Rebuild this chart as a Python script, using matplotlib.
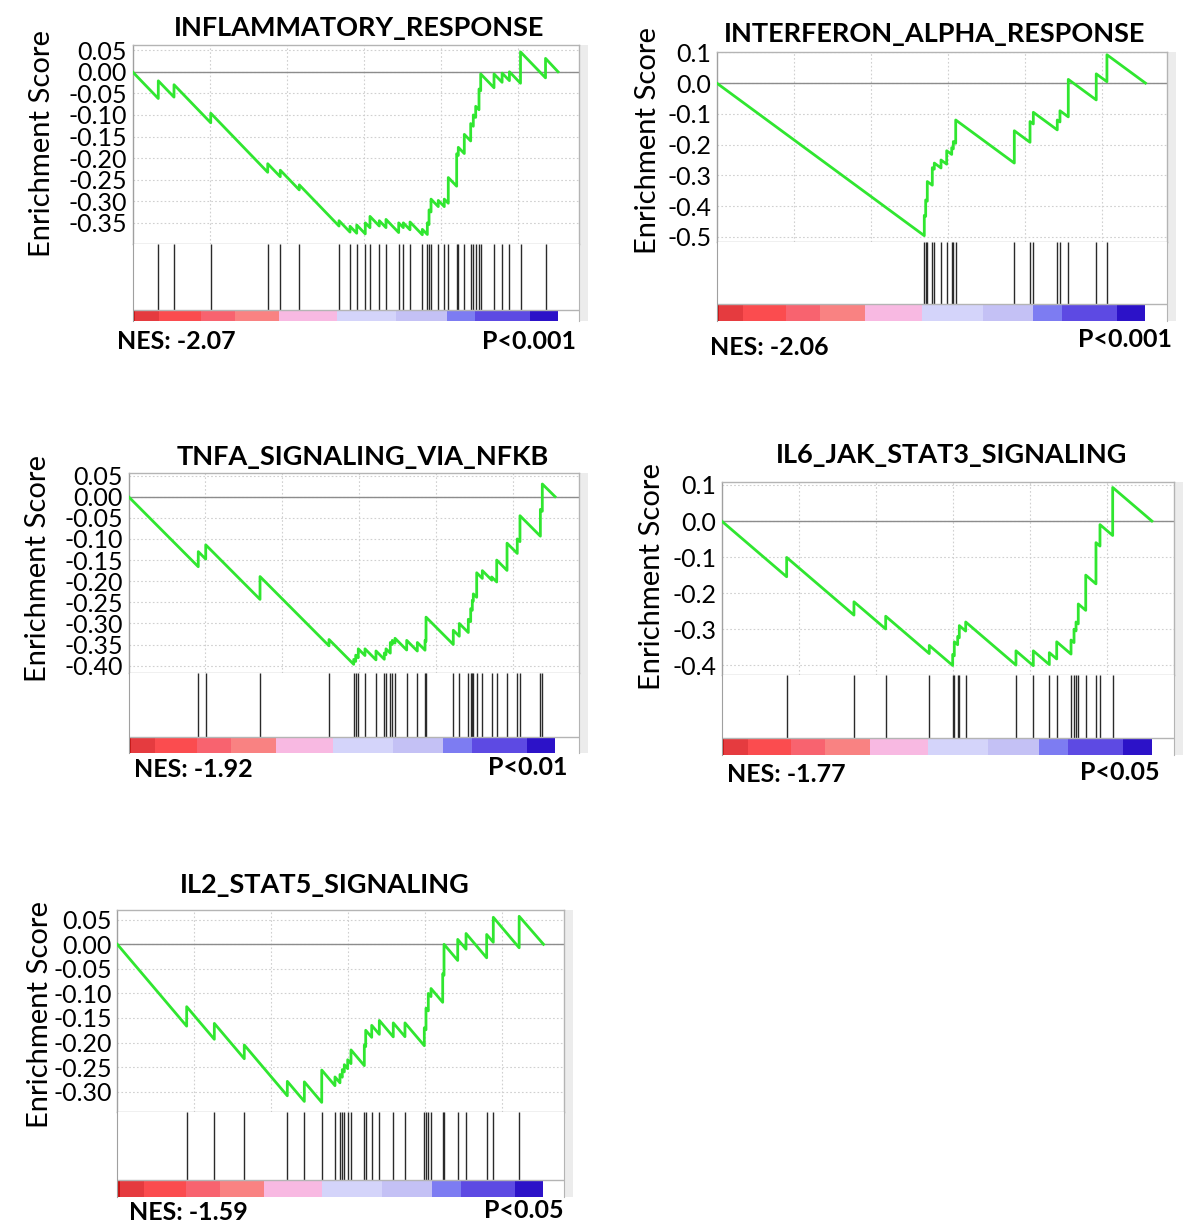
import matplotlib
matplotlib.use("Agg")
import matplotlib.pyplot as plt
from matplotlib.patches import Rectangle

plt.rcParams['font.family'] = ['Lato', 'DejaVu Sans']
plt.rcParams['axes.unicode_minus'] = False

# ---------------- data ----------------
titles = ["INFLAMMATORY_RESPONSE", "INTERFERON_ALPHA_RESPONSE", "TNFA_SIGNALING_VIA_NFKB",
          "IL6_JAK_STAT3_SIGNALING", "IL2_STAT5_SIGNALING"]
nes_labels = ["NES: -2.07", "NES: -2.06", "NES: -1.92", "NES: -1.77", "NES: -1.59"]
p_labels = ["P<0.001", "P<0.001", "P<0.01", "P<0.05", "P<0.05"]

# gene-set hit positions in the ranked list, and running ES just after each hit
inflammatory_hits = [335, 539, 1016, 1756, 1919, 2166, 2682, 2825, 2912, 3023, 3084, 3205, 3292,
                     3457, 3517, 3604, 3764, 3829, 3851, 3877, 3971, 4049, 4101, 4210, 4231, 4309,
                     4392, 4426, 4457, 4500, 4522, 4695, 4800, 4895, 5039, 5364]
inflammatory_peaks = [-0.021, -0.030, -0.096, -0.213, -0.228, -0.262, -0.345, -0.358, -0.355,
                      -0.350, -0.335, -0.345, -0.342, -0.350, -0.350, -0.348, -0.365, -0.350,
                      -0.320, -0.295, -0.298, -0.295, -0.245, -0.190, -0.175, -0.145, -0.120,
                      -0.100, -0.080, -0.040, -0.005, -0.005, -0.003, 0.000, 0.046, 0.031]

ifna_hits = [2696, 2714, 2735, 2800, 2826, 2913, 2987, 3052, 3073, 3104, 3865, 4069, 4112,
             4423, 4458, 4566, 4929, 5068]
ifna_peaks = [-0.430, -0.380, -0.320, -0.275, -0.260, -0.250, -0.220, -0.210, -0.190, -0.120,
              -0.155, -0.125, -0.095, -0.120, -0.090, 0.012, 0.030, 0.092]

tnfa_hits = [906, 1003, 1708, 2604, 2925, 2951, 2984, 3071, 3214, 3322, 3344, 3400, 3426, 3461,
             3613, 3751, 3851, 3864, 4218, 4296, 4413, 4444, 4465, 4478, 4522, 4595, 4717, 4782,
             4916, 5049, 5084, 5349, 5374]
tnfa_peaks = [-0.130, -0.114, -0.189, -0.338, -0.385, -0.375, -0.360, -0.360, -0.365, -0.370,
              -0.360, -0.345, -0.340, -0.335, -0.340, -0.345, -0.340, -0.285, -0.316, -0.300,
              -0.290, -0.265, -0.245, -0.230, -0.180, -0.175, -0.190, -0.150, -0.110, -0.100,
              -0.045, -0.030, 0.030]

il6_hits = [845, 1719, 2131, 2697, 3001, 3022, 3066, 3087, 3170, 3823, 4048, 4256, 4352, 4538,
            4577, 4603, 4632, 4729, 4862, 4914, 5079]
il6_peaks = [-0.101, -0.224, -0.264, -0.345, -0.370, -0.335, -0.320, -0.290, -0.280, -0.360,
             -0.360, -0.365, -0.335, -0.330, -0.300, -0.280, -0.230, -0.150, -0.060, -0.010, 0.093]

il2_hits = [901, 1260, 1649, 2208, 2429, 2655, 2827, 2892, 2922, 2948, 2992, 3035, 3208, 3226,
            3304, 3403, 3584, 3736, 3987, 4009, 4039, 4074, 4226, 4243, 4421, 4529, 4797, 4883, 5219]
il2_peaks = [-0.127, -0.161, -0.205, -0.279, -0.280, -0.256, -0.270, -0.265, -0.255, -0.245,
             -0.235, -0.215, -0.205, -0.175, -0.165, -0.155, -0.160, -0.160, -0.170, -0.130,
             -0.100, -0.090, -0.060, 0.000, 0.010, 0.022, 0.020, 0.055, 0.057]

hits = [inflammatory_hits, ifna_hits, tnfa_hits, il6_hits, il2_hits]
peaks = [inflammatory_peaks, ifna_peaks, tnfa_peaks, il6_peaks, il2_peaks]
n_ranked = [5526, 5568, 5540, 5588, 5535]          # length of ranked list
miss_step = [0.000185, 0.000184, 0.000183, 0.000183, 0.000185]  # ES decrement per non-hit gene

ytick_values = [
    [0.05, 0.00, -0.05, -0.10, -0.15, -0.20, -0.25, -0.30, -0.35],
    [0.1, 0.0, -0.1, -0.2, -0.3, -0.4, -0.5],
    [0.05, 0.00, -0.05, -0.10, -0.15, -0.20, -0.25, -0.30, -0.35, -0.40],
    [0.1, 0.0, -0.1, -0.2, -0.3, -0.4],
    [0.05, 0.00, -0.05, -0.10, -0.15, -0.20, -0.25, -0.30],
]
ytick_fmt = ['%.2f', '%.1f', '%.2f', '%.1f', '%.2f']
ylims = [(-0.399, 0.062), (-0.515, 0.102), (-0.4165, 0.0553), (-0.427, 0.109), (-0.342, 0.0698)]

# ranked-list colour bar (fractions of list, colours)
bar_edges = [0, 0.006, 0.062, 0.161, 0.240, 0.345, 0.480, 0.620, 0.738, 0.806, 0.934, 1.0]
bar_colors = ['#c81414', '#e53b3f', '#fb4c4f', '#f8636f', '#f98282', '#f8b9e2',
              '#d4d4fa', '#c4c1f5', '#7d7cf2', '#5d4ae3', '#2c12c8']

# ---------------- layout (pixels) ----------------
W, H = 1203, 1229
# x_left, x_right, y_top, y_es_bottom, y_bar_top, y_bottom
panel_box = [
    (132.5, 579.3, 45.0, 244.0, 310.0, 321.0),
    (716.7, 1166.5, 51.7, 241.5, 304.3, 321.0),
    (128.5, 578.8, 473.3, 672.7, 737.3, 753.3),
    (721.6, 1174.2, 481.7, 675.0, 738.3, 755.0),
    (117.3, 564.2, 910.0, 1112.3, 1180.0, 1197.3),
]
PX_PER_RANK = 0.077
title_pos = [(359.5, 36.0), (934.6, 41.7), (362.5, 465.0), (952.0, 462.7), (325.0, 893.0)]
ylabel_pos = [(42.3, 143.5), (648.0, 140.0), (38.5, 569.0), (652.0, 577.0), (40.4, 1015.0)]
nes_pos = [(117.0, 349.0), (709.6, 355.0), (133.8, 777.0), (727.0, 782.0), (128.8, 1220.0)]
p_pos = [(576.0, 349.0), (1172.0, 347.0), (567.3, 775.0), (1159.6, 780.0), (563.5, 1218.0)]

fig = plt.figure(figsize=(W / 100, H / 100), dpi=100)


def fx(px):
    return px / W


def fy(py):
    return 1 - py / H


frame_col = '#b4b4b4'
for i in range(5):
    xl, xr, yt, ye, yb, ybot = panel_box[i]
    xmax = (xr - xl) / PX_PER_RANK
    N = n_ranked[i]

    # side shadow strip
    fig.add_artist(Rectangle((fx(xr + 1), fy(ybot)), 8 / W, (ybot - yt) / H,
                             transform=fig.transFigure, color='#ececec', zorder=0, lw=0))

    # --- enrichment score axes ---
    ax = fig.add_axes([fx(xl), fy(ye), (xr - xl) / W, (ye - yt) / H])
    xs, ys = [0], [0.0]
    px_, py_ = 0, 0.0
    for h, p in zip(hits[i], peaks[i]):
        v = py_ - miss_step[i] * (h - px_)
        xs += [h, h]
        ys += [v, p]
        px_, py_ = h, p
    xs.append(N)
    ys.append(0.0)
    ax.axhline(0, color='#8c8c8c', lw=1.0, zorder=2)
    ax.plot(xs, ys, color='#30e630', lw=2.0, zorder=3)
    ax.set_xlim(0, xmax)
    ax.set_ylim(*ylims[i])
    ax.set_xticks(list(range(1000, int(xmax), 1000)))
    ax.set_xticklabels([])
    ax.set_yticks(ytick_values[i])
    ax.set_yticklabels([ytick_fmt[i] % v for v in ytick_values[i]])
    ax.tick_params(axis='both', length=0)
    ax.tick_params(axis='y', pad=4, labelsize=18)
    ax.grid(True, ls=(0, (1.5, 2)), color='#d0d0d0', lw=0.8)
    for s in ax.spines.values():
        s.set_color(frame_col)
        s.set_linewidth(1.0)
    ax.spines['left'].set_color('#a0a0a0')

    # --- hits + ranked list colour bar ---
    hx = fig.add_axes([fx(xl), fy(ybot), (xr - xl) / W, (ybot - ye) / H])
    hx.set_xlim(0, xmax)
    hx.set_ylim(0, 1)
    bf = (ybot - yb) / (ybot - ye)
    hx.vlines(hits[i], bf, 1, color='#2a2a2a', lw=1.0)
    segs = [(bar_edges[k] * N, (bar_edges[k + 1] - bar_edges[k]) * N) for k in range(len(bar_colors))]
    hx.broken_barh(segs, (0, bf), facecolors=bar_colors, lw=0)
    hx.axhline(bf, color=frame_col, lw=1.0)
    hx.set_xticks([])
    hx.set_yticks([])
    hx.spines['top'].set_visible(False)
    hx.spines['bottom'].set_visible(False)
    hx.spines['left'].set_color('#a0a0a0')
    hx.spines['right'].set_color(frame_col)

    # --- texts ---
    fig.text(fx(title_pos[i][0]), fy(title_pos[i][1]), titles[i], ha='center', va='baseline',
             fontsize=19.5, fontweight='bold')
    fig.text(fx(ylabel_pos[i][0]), fy(ylabel_pos[i][1]), 'Enrichment Score', rotation=90,
             ha='center', va='center', fontsize=21)
    fig.text(fx(nes_pos[i][0]), fy(nes_pos[i][1]), nes_labels[i], ha='left', va='baseline',
             fontsize=18, fontweight='bold')
    fig.text(fx(p_pos[i][0]), fy(p_pos[i][1]), p_labels[i], ha='right', va='baseline',
             fontsize=18, fontweight='bold')

fig.savefig('out.png', dpi=100)
